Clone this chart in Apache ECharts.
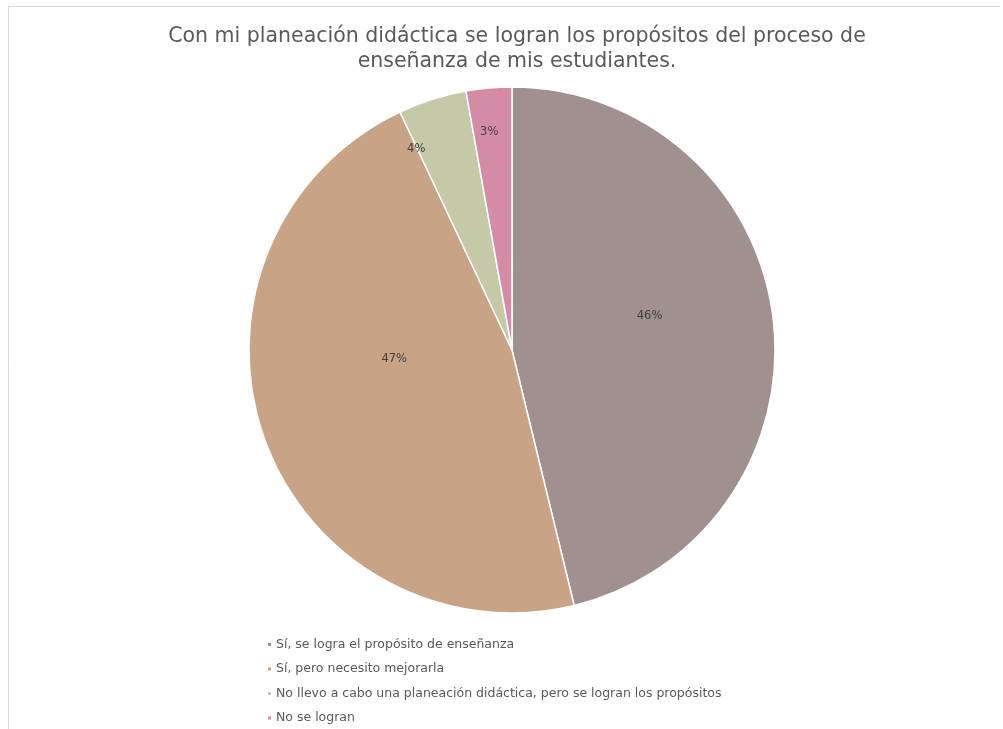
<!DOCTYPE html>
<html>
<head>
<meta charset="utf-8">
<script src="https://cdn.jsdelivr.net/npm/echarts@6/dist/echarts.min.js"></script>
<style>
html,body{margin:0;padding:0;background:#fff;}
#main{width:1003px;height:729px;}
</style>
</head>
<body>
<div id="main"></div>
<script>
const titleText = 'Con mi planeación didáctica se logran los propósitos del proceso de\nenseñanza de mis estudiantes.';
const categories = [
  'Sí, se logra el propósito de enseñanza',
  'Sí, pero necesito mejorarla',
  'No llevo a cabo una planeación didáctica, pero se logran los propósitos',
  'No se logran'
];
const values = [46.2, 46.8, 4.2, 2.8];
const colors = ['#a0908f', '#c8a386', '#c6c9a8', '#d48ca6'];
const labelShift = [[4, -18], [9, -36], [-55, -73], [-11, -84]];

const chart = echarts.init(document.getElementById('main'), null, {renderer: 'canvas'});
const FONT = '"DejaVu Sans", sans-serif';
chart.setOption({
  animation: false,
  color: colors,
  title: {
    text: titleText,
    left: 512,
    textAlign: 'center',
    top: 19,
    textStyle: {fontFamily: FONT, fontSize: 20.5, fontWeight: 'normal', color: '#5a5a5a', lineHeight: 25}
  },
  legend: {
    orient: 'vertical',
    left: 261,
    top: 633,
    height: 120,
    icon: 'rect',
    itemWidth: 5,
    itemHeight: 5,
    itemGap: 11.5,
    textStyle: {fontFamily: FONT, fontSize: 12.5, color: '#595959', padding: [0, 0, 0, -1]},
    data: categories
  },
  graphic: [
    {type: 'line', shape: {x1: 8.5, y1: 6, x2: 8.5, y2: 729}, style: {stroke: '#d9d9d9', lineWidth: 1}},
    {type: 'line', shape: {x1: 8, y1: 6.5, x2: 1000, y2: 6.5}, style: {stroke: '#d9d9d9', lineWidth: 1}}
  ],
  series: [{
    type: 'pie',
    center: [512, 350],
    radius: [0, 263],
    startAngle: 90,
    clockwise: true,
    percentPrecision: 0,
    itemStyle: {borderColor: '#ffffff', borderWidth: 1.5},
    label: {
      position: 'inside',
      formatter: '{d}%',
      fontFamily: FONT,
      fontSize: 11.5,
      color: '#404040'
    },
    labelLayout: function (p) {
      const s = labelShift[p.dataIndex];
      return {dx: s[0], dy: s[1]};
    },
    emphasis: {disabled: true},
    data: categories.map((c, i) => ({name: c, value: values[i]}))
  }]
});
</script>
</body>
</html>
